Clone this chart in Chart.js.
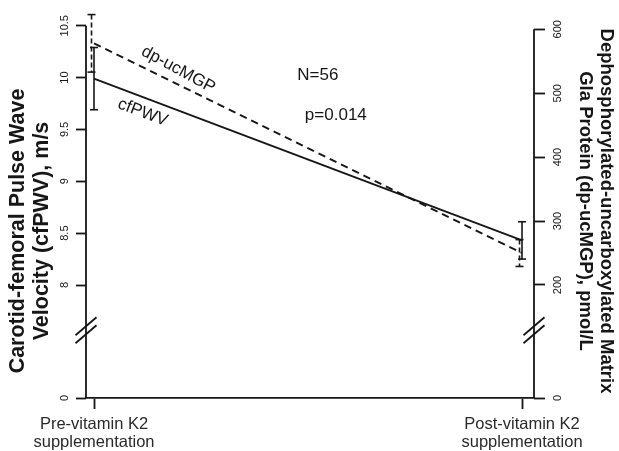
<!DOCTYPE html>
<html>
<head>
<meta charset="utf-8">
<script src="https://cdn.jsdelivr.net/npm/chart.js@4.4.1/dist/chart.umd.min.js"></script>
<style>
  html, body { margin: 0; padding: 0; background: #fff; }
  canvas { display: block; }
</style>
</head>
<body>
<canvas id="chart" width="619" height="451"></canvas>
<script>
// valores
const categories = [['Pre-vitamin K2', 'supplementation'], ['Post-vitamin K2', 'supplementation']];
const xPos = [0, 1];
const cfpwvMean = [9.99, 8.43];
const cfpwvErr = [0.30, 0.18];
const dpMean = [578, 250];
const dpErr = [45, 21];
const leftTicks = [8, 8.5, 9, 9.5, 10, 10.5];
const rightTicks = [200, 300, 400, 500, 600];
const leftTitle = ['Carotid-femoral Pulse Wave', 'Velocity (cfPWV), m/s'];
const rightTitle = ['Dephosphorylated-uncarboxylated Matrix', 'Gla Protein (dp-ucMGP), pmol/L'];
const notes = ['N=56', 'p=0.014'];

const INK = '#161616';
const FONT = "'Liberation Sans', Arial, sans-serif";

function seg(ctx, x1, y1, x2, y2) {
    ctx.beginPath();
    ctx.moveTo(x1, y1);
    ctx.lineTo(x2, y2);
    ctx.stroke();
}

// ejes cortados, barras de error y textos
const extras = {
    id: 'extras',
    afterDatasetsDraw(chart) {
        const { ctx, scales: { x, y, y1 } } = chart;
        ctx.save();
        ctx.strokeStyle = INK;
        ctx.fillStyle = INK;
        ctx.lineWidth = 1.8;

        // líneas de eje solo entre el primer y el último tick
        const yBottom = y.getPixelForValue(y.min);
        seg(ctx, y.right, yBottom, y.right, y.getPixelForValue(leftTicks[leftTicks.length - 1]));
        seg(ctx, y1.left, yBottom, y1.left, y1.getPixelForValue(rightTicks[rightTicks.length - 1]));

        // marcas de corte
        const cut = (ax, p8, p0) => {
            const c = p8 + 0.4 * (p0 - p8);
            [-4, 4].forEach(o => seg(ctx, ax - 10.5, c + o + 9, ax + 10.5, c + o - 9));
        };
        cut(y.right, y.getPixelForValue(leftTicks[0]), yBottom);
        cut(y1.left, y1.getPixelForValue(rightTicks[0]), yBottom);

        // barras de error
        const bars = (dsIndex, scale, mean, err, dodge, dash) => {
            const meta = chart.getDatasetMeta(dsIndex);
            meta.data.forEach((pt, i) => {
                const px = pt.x + dodge;
                const top = scale.getPixelForValue(mean[i] + err[i]);
                const bot = scale.getPixelForValue(mean[i] - err[i]);
                ctx.lineWidth = 1.6;
                ctx.setLineDash(dash);
                seg(ctx, px, top, px, bot);
                ctx.setLineDash([]);
                seg(ctx, px - 4, top, px + 4, top);
                seg(ctx, px - 4, bot, px + 4, bot);
            });
        };
        bars(0, y, cfpwvMean, cfpwvErr, 0, []);
        bars(1, y1, dpMean, dpErr, -2.5, [5, 3]);

        // nombres de las series sobre las líneas
        const tag = (dsIndex, text, f, off, extra) => {
            const [a, b] = chart.getDatasetMeta(dsIndex).data;
            const ang = Math.atan2(b.y - a.y, b.x - a.x) + extra;
            ctx.save();
            ctx.translate(a.x + f * (b.x - a.x), a.y + f * (b.y - a.y));
            ctx.rotate(ang);
            ctx.font = '17px ' + FONT;
            ctx.textAlign = 'center';
            ctx.textBaseline = 'middle';
            ctx.fillText(text, 0, off);
            ctx.restore();
        };
        tag(1, 'dp-ucMGP', 0.182, -13.5, 0.04);
        tag(0, 'cfPWV', 0.126, 14.5, 0);

        ctx.font = '17px ' + FONT;
        ctx.textAlign = 'center';
        ctx.textBaseline = 'middle';
        ctx.fillText(notes[0], x.getPixelForValue(0.523), y.getPixelForValue(10.025));
        ctx.fillText(notes[1], x.getPixelForValue(0.565), y.getPixelForValue(9.64));

        // títulos de los ejes
        ctx.save();
        ctx.translate(0, 231);
        ctx.rotate(-Math.PI / 2);
        ctx.font = 'bold 21.5px ' + FONT;
        ctx.fillText(leftTitle[0], 0, 18);
        ctx.fillText(leftTitle[1], 0, 42);
        ctx.restore();

        ctx.save();
        ctx.translate(chart.width, 211);
        ctx.rotate(Math.PI / 2);
        ctx.font = 'bold 18.5px ' + FONT;
        ctx.fillText(rightTitle[0], 0, 13);
        ctx.fillText(rightTitle[1], 0, 34);
        ctx.restore();

        ctx.restore();
    }
};

const chart = new Chart(document.getElementById('chart'), {
    type: 'line',
    data: {
        datasets: [{
            label: 'cfPWV',
            data: xPos.map((v, i) => ({ x: v, y: cfpwvMean[i] })),
            yAxisID: 'y',
            borderColor: INK,
            borderWidth: 1.8,
            pointRadius: 0,
            tension: 0
        }, {
            label: 'dp-ucMGP',
            data: xPos.map((v, i) => ({ x: v, y: dpMean[i] })),
            yAxisID: 'y1',
            borderColor: INK,
            borderWidth: 1.8,
            borderDash: [7.5, 5],
            pointRadius: 0,
            tension: 0
        }]
    },
    options: {
        responsive: false,
        animation: false,
        layout: { padding: 0 },
        plugins: {
            legend: { display: false },
            tooltip: { enabled: false }
        },
        scales: {
            x: {
                type: 'linear',
                min: -0.0187,
                max: 1.028,
                afterBuildTicks: s => { s.ticks = xPos.map(v => ({ value: v })); },
                afterFit: s => { s.height = 53; s.paddingLeft = 0; s.paddingRight = 0; },
                grid: { drawOnChartArea: false, tickLength: 11, tickColor: INK, tickWidth: 1.8 },
                border: { display: true, color: INK, width: 1.8 },
                ticks: {
                    autoSkip: false,
                    maxRotation: 0,
                    padding: 6,
                    color: '#2a2a2a',
                    font: { family: FONT, size: 16.5, lineHeight: 1.12 },
                    callback: v => categories[xPos.indexOf(v)]
                }
            },
            y: {
                type: 'linear',
                position: 'left',
                min: 6.9105,
                max: 10.748,
                afterBuildTicks: s => { s.ticks = [{ value: s.min }].concat(leftTicks.map(v => ({ value: v }))); },
                afterFit: s => { s.width = 86; s.paddingTop = 0; s.paddingBottom = 0; },
                grid: { drawOnChartArea: false, tickLength: 10, tickColor: INK, tickWidth: 1.8 },
                border: { display: false },
                ticks: {
                    autoSkip: false,
                    minRotation: 90,
                    maxRotation: 90,
                    crossAlign: 'center',
                    padding: 0,
                    color: INK,
                    font: { family: FONT, size: 11 },
                    callback: (v, i) => i === 0 ? '0' : String(v)
                }
            },
            y1: {
                type: 'linear',
                position: 'right',
                min: 23.23,
                max: 645.8,
                afterBuildTicks: s => { s.ticks = [{ value: s.min }].concat(rightTicks.map(v => ({ value: v }))); },
                afterFit: s => { s.width = 85; s.paddingTop = 0; s.paddingBottom = 0; },
                grid: { drawOnChartArea: false, tickLength: 11, tickColor: INK, tickWidth: 1.8 },
                border: { display: false },
                ticks: {
                    autoSkip: false,
                    minRotation: 90,
                    maxRotation: 90,
                    crossAlign: 'center',
                    padding: 3.5,
                    color: INK,
                    font: { family: FONT, size: 11 },
                    callback: (v, i) => i === 0 ? '0' : String(v)
                }
            }
        }
    },
    plugins: [extras]
});
</script>
</body>
</html>
